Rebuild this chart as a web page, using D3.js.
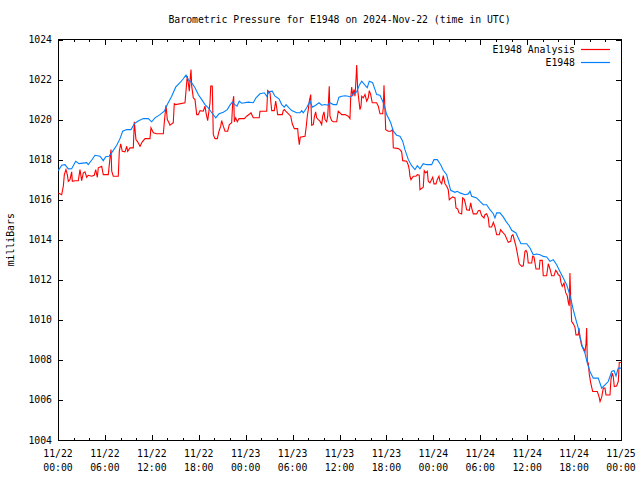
<!DOCTYPE html>
<html>
<head>
<meta charset="utf-8">
<script src="https://cdn.jsdelivr.net/npm/d3@7"></script>
<style>
  html, body { margin: 0; padding: 0; background: #fff; }
  svg { display: block; }
  text { font-family: "DejaVu Sans Mono", "Liberation Mono", monospace; font-size: 9.8px; fill: #000; }
</style>
</head>
<body>
<svg id="chart" width="640" height="480"></svg>
<script>
// ---- Data (hours since 2024-11-22 00:00 UTC, pressure in mb) ----
const title = "Barometric Pressure for E1948 on 2024-Nov-22 (time in UTC)";
const yLabel = "milliBars";
const seriesNames = ["E1948 Analysis", "E1948"];
const seriesColors = ["#ff0000", "#0080ff"];

const xTickHours = [0, 6, 12, 18, 24, 30, 36, 42, 48, 54, 60, 66, 72];
const xTickDates = ["11/22","11/22","11/22","11/22","11/23","11/23","11/23","11/23","11/24","11/24","11/24","11/24","11/25"];
const xTickTimes = ["00:00","06:00","12:00","18:00","00:00","06:00","12:00","18:00","00:00","06:00","12:00","18:00","00:00"];
const yTicks = [1004, 1006, 1008, 1010, 1012, 1014, 1016, 1018, 1020, 1022, 1024];

const blueHours = [0.04,0.47,0.90,1.32,1.75,2.26,2.69,3.67,3.87,4.39,4.73,5.37,5.79,6.10,6.52,6.94,7.51,7.93,8.27,8.79,9.34,9.76,10.19,10.91,11.55,11.98,12.40,13.04,13.59,14.03,14.54,15.05,15.60,16.02,16.37,16.66,17.10,17.52,17.94,18.38,18.80,19.22,19.66,20.17,20.59,21.14,21.65,21.99,22.29,22.63,22.89,23.18,23.49,24.34,24.97,25.32,25.83,26.38,26.69,26.98,27.40,27.75,28.26,28.61,28.94,29.16,29.54,29.89,30.52,30.95,31.16,31.37,31.80,32.23,32.52,32.95,33.38,33.72,34.14,34.49,34.78,35.21,35.64,35.93,36.28,36.70,37.12,37.43,37.76,38.20,38.53,38.84,39.26,39.55,39.81,40.24,40.54,40.75,41.18,41.52,41.82,42.03,42.24,42.55,42.88,43.31,43.73,44.08,44.37,44.80,45.23,45.65,45.95,46.29,46.71,47.15,47.79,48.08,48.50,48.94,49.27,49.71,49.91,50.22,50.77,51.06,51.41,52.05,52.47,52.69,52.90,53.54,53.96,54.39,54.82,55.24,55.67,55.88,56.10,56.52,56.94,57.29,57.71,58.02,58.57,58.86,59.21,59.94,60.36,60.78,61.22,61.64,62.06,62.49,62.92,63.34,63.77,64.19,64.62,65.05,65.26,65.56,65.90,66.24,66.54,66.75,67.10,67.39,67.69,68.03,68.45,69.09,69.53,69.95,70.37,70.81,71.10,71.36,71.65,72.00];
const blueValues = [1017.45,1017.72,1017.75,1017.54,1017.55,1017.92,1017.80,1017.85,1017.75,1018.02,1018.22,1018.17,1017.95,1018.15,1018.17,1018.39,1018.72,1019.05,1019.42,1019.50,1019.50,1019.79,1019.92,1020.05,1020.05,1019.89,1020.09,1020.25,1020.42,1020.79,1021.17,1021.62,1021.84,1022.04,1022.22,1022.00,1021.84,1021.59,1021.25,1021.00,1020.75,1020.59,1020.34,1020.09,1020.29,1020.37,1020.50,1020.72,1020.87,1020.75,1020.67,1020.92,1020.82,1020.87,1020.84,1021.09,1021.29,1021.34,1021.17,1021.39,1021.42,1021.17,1021.04,1020.75,1020.62,1020.75,1020.59,1020.45,1020.34,1020.34,1020.45,1020.34,1020.59,1020.92,1020.62,1020.72,1020.84,1020.72,1020.75,1020.72,1020.84,1020.75,1020.75,1021.12,1021.17,1021.19,1021.17,1021.12,1021.29,1021.39,1021.72,1021.92,1021.72,1021.59,1021.92,1021.84,1021.50,1021.25,1021.22,1020.92,1020.59,1020.25,1020.09,1019.84,1019.42,1019.22,1019.17,1018.92,1018.50,1018.00,1017.70,1017.50,1017.70,1017.54,1017.80,1017.75,1017.75,1018.00,1018.00,1017.75,1017.47,1017.25,1016.92,1016.47,1016.37,1016.42,1016.34,1016.25,1016.29,1016.42,1016.17,1016.09,1015.92,1015.75,1015.75,1015.50,1015.30,1015.09,1015.34,1015.34,1015.14,1014.92,1014.70,1014.47,1014.34,1014.09,1013.80,1013.80,1013.59,1013.25,1013.29,1013.25,1013.17,1013.14,1012.92,1013.00,1012.75,1012.42,1012.09,1011.75,1011.50,1011.09,1010.50,1010.00,1009.59,1009.17,1008.59,1008.34,1007.84,1007.42,1007.09,1007.09,1006.59,1006.75,1006.92,1007.42,1007.47,1007.20,1007.59,1007.59];

const redHours = [0.04,0.47,0.68,0.81,1.02,1.19,1.32,1.53,1.75,1.83,2.17,2.60,2.81,3.03,3.24,3.45,3.67,3.87,4.31,4.64,4.82,5.03,5.15,5.59,5.79,6.43,6.65,6.78,6.87,7.07,7.71,7.84,8.02,8.22,8.57,8.79,8.91,9.21,9.63,9.76,9.85,9.97,10.19,10.49,10.78,11.13,11.76,11.89,12.19,12.62,13.47,13.59,13.81,13.98,14.19,14.32,14.74,14.87,15.05,16.24,16.53,16.66,16.79,16.88,17.01,17.10,17.30,17.52,17.74,17.94,18.16,18.58,18.80,18.93,19.14,19.22,19.44,19.53,19.73,19.86,20.08,20.37,20.59,20.81,20.93,21.14,21.36,21.70,21.91,22.21,22.34,22.47,22.55,22.72,22.93,23.15,23.82,24.13,24.55,24.68,24.97,25.74,25.83,26.69,26.82,27.11,27.33,27.66,27.84,27.97,28.09,28.68,28.81,28.94,29.12,29.76,29.96,30.22,30.65,30.73,30.86,30.98,31.59,31.75,31.88,32.01,32.14,32.32,32.44,32.65,32.78,32.95,33.08,33.29,33.50,33.72,33.85,34.02,34.14,34.36,34.49,34.57,34.69,34.78,35.00,35.21,35.64,35.84,36.28,36.70,37.12,37.34,37.43,37.56,37.69,37.85,37.98,38.11,38.20,38.32,38.49,38.62,38.75,38.84,39.04,39.26,39.48,39.68,39.81,39.99,40.19,40.75,40.96,41.18,41.52,41.60,41.69,41.82,41.91,42.24,42.55,42.80,42.88,43.52,43.73,43.95,44.08,44.59,44.80,44.92,45.01,45.14,45.44,45.78,45.95,46.20,46.29,46.71,46.84,47.02,47.23,47.35,47.57,47.92,48.08,48.34,48.50,48.72,48.85,49.07,49.27,49.49,49.71,49.91,50.04,50.22,50.47,50.77,50.90,51.11,51.28,51.62,51.75,51.96,52.13,52.26,52.60,52.78,52.90,53.11,53.54,53.75,53.96,54.18,54.48,54.60,54.82,55.03,55.15,55.46,55.67,55.88,56.10,56.43,56.61,56.87,57.16,57.58,57.89,58.02,58.18,58.35,58.57,58.73,58.99,59.30,59.50,59.72,59.85,60.01,60.14,60.58,60.70,60.87,61.13,61.55,61.64,61.93,62.06,62.49,62.70,62.92,63.13,63.43,63.65,63.77,63.98,64.19,64.32,64.49,64.71,64.92,65.13,65.26,65.38,65.47,65.56,65.69,65.90,66.11,66.24,66.54,66.62,66.75,66.97,67.18,67.39,67.52,67.61,67.69,67.82,67.94,68.12,68.38,68.97,69.19,69.32,69.53,69.74,69.95,70.08,70.59,70.72,70.88,71.01,71.14,71.44,71.65,71.78,72.00];
const redValues = [1016.34,1016.25,1016.67,1017.25,1017.50,1017.25,1016.92,1017.00,1017.39,1016.92,1016.95,1016.95,1017.50,1016.95,1017.34,1017.39,1017.12,1017.22,1017.17,1017.22,1017.50,1017.12,1017.59,1017.67,1017.25,1017.25,1018.09,1018.50,1017.42,1017.17,1017.17,1018.42,1018.79,1018.42,1018.39,1018.67,1018.42,1018.59,1018.59,1019.89,1019.50,1019.00,1018.89,1018.67,1018.89,1019.05,1019.05,1019.59,1019.34,1019.29,1019.29,1019.84,1020.72,1020.00,1019.84,1019.72,1019.84,1020.79,1020.75,1020.84,1022.17,1021.84,1021.42,1021.92,1022.50,1021.67,1021.09,1021.00,1020.25,1020.25,1020.45,1020.42,1020.67,1020.34,1019.95,1020.17,1020.84,1021.67,1021.67,1019.25,1019.05,1019.05,1019.42,1019.67,1019.95,1019.67,1019.42,1019.42,1019.75,1019.84,1020.84,1021.17,1019.89,1020.09,1019.89,1020.05,1020.05,1020.17,1020.29,1020.34,1020.09,1020.09,1020.42,1020.42,1021.45,1021.34,1020.45,1020.45,1020.92,1020.59,1020.25,1020.25,1020.45,1020.50,1020.42,1020.17,1019.79,1019.55,1019.55,1019.17,1018.75,1019.12,1019.17,1019.67,1020.17,1020.50,1020.92,1021.25,1019.72,1019.75,1020.12,1020.39,1020.09,1020.00,1019.92,1019.75,1020.17,1020.39,1020.00,1019.89,1020.17,1020.72,1021.67,1020.17,1019.95,1019.89,1019.89,1020.42,1020.25,1020.25,1020.17,1020.05,1021.09,1021.62,1021.17,1021.50,1021.17,1022.00,1022.72,1021.50,1020.92,1020.50,1020.67,1021.17,1021.09,1021.25,1020.92,1021.09,1021.45,1021.25,1020.84,1020.84,1020.67,1020.29,1020.29,1020.59,1021.72,1020.42,1019.50,1019.42,1019.42,1019.50,1018.59,1018.55,1018.50,1018.39,1017.95,1017.92,1017.72,1017.50,1017.17,1017.00,1017.17,1017.17,1017.25,1017.22,1016.50,1016.62,1017.45,1017.34,1017.42,1016.92,1016.84,1017.12,1016.79,1016.79,1017.00,1017.17,1016.92,1016.79,1017.20,1016.79,1016.67,1016.50,1016.00,1016.07,1016.14,1016.09,1015.59,1015.54,1015.34,1015.29,1016.09,1016.02,1015.75,1015.50,1015.47,1015.84,1015.59,1015.29,1015.29,1015.45,1015.47,1015.20,1015.09,1015.25,1015.30,1015.09,1014.64,1014.64,1014.87,1014.64,1014.25,1014.25,1014.50,1014.37,1014.25,1013.87,1013.92,1014.20,1014.25,1014.00,1013.67,1013.34,1012.80,1012.67,1012.70,1013.42,1013.47,1013.34,1012.84,1012.84,1013.17,1013.14,1012.54,1012.54,1012.97,1012.97,1012.20,1012.20,1012.80,1012.54,1012.20,1012.20,1012.47,1012.42,1012.25,1012.20,1011.87,1011.67,1011.84,1011.37,1011.20,1010.87,1010.70,1012.34,1011.14,1009.92,1009.80,1009.64,1009.25,1009.25,1009.59,1009.14,1008.70,1008.59,1008.42,1008.80,1009.59,1007.92,1007.84,1007.30,1006.87,1006.42,1006.42,1006.17,1005.92,1006.14,1006.59,1006.59,1006.25,1006.25,1007.04,1007.34,1007.17,1006.67,1006.70,1006.92,1007.87,1007.87];

(function () {
  // ---- Layout ----
  const svg = d3.select("#chart");
  const pL = 58, pR = 621, pT = 39.5, pB = 440;

  const x = d3.scaleLinear().domain([0, 72]).range([pL, pR]);
  const y = d3.scaleLinear().domain([1004, 1024]).range([pB, pT]);

  const minorHours = d3.range(0, 73, 2).filter(h => h % 6 !== 0);

  const axes = svg.append("g").attr("shape-rendering", "crispEdges");

  function styleAxis(g) {
    g.select(".domain").remove();
    g.selectAll(".tick text").remove();
    g.selectAll(".tick line").attr("stroke", "#000");
  }

  axes.append("g").attr("transform", `translate(0,${pB})`)
    .call(d3.axisBottom(x).tickValues(xTickHours).tickSize(-5))
    .call(styleAxis);
  axes.append("g").attr("transform", `translate(0,${pB})`)
    .call(d3.axisBottom(x).tickValues(minorHours).tickSize(-2.5))
    .call(styleAxis);
  axes.append("g").attr("transform", `translate(0,${pT})`)
    .call(d3.axisTop(x).tickValues(xTickHours).tickSize(-5))
    .call(styleAxis);
  axes.append("g").attr("transform", `translate(0,${pT})`)
    .call(d3.axisTop(x).tickValues(minorHours).tickSize(-2.5))
    .call(styleAxis);
  axes.append("g").attr("transform", `translate(${pL},0)`)
    .call(d3.axisLeft(y).tickValues(yTicks).tickSize(-5))
    .call(styleAxis);
  axes.append("g").attr("transform", `translate(${pR},0)`)
    .call(d3.axisRight(y).tickValues(yTicks).tickSize(-5))
    .call(styleAxis);

  axes.append("rect")
    .attr("x", pL).attr("y", pT)
    .attr("width", pR - pL).attr("height", pB - pT)
    .attr("fill", "none").attr("stroke", "#000").attr("stroke-width", 1);

  // y tick labels
  svg.append("g").selectAll("text").data(yTicks).join("text")
    .attr("x", pL - 6).attr("y", d => y(d) + 3.5)
    .attr("text-anchor", "end")
    .text(d => d);

  // x tick labels
  const xl = svg.append("g").selectAll("g").data(xTickHours).join("g");
  xl.append("text").attr("x", d => x(d)).attr("y", 457).attr("text-anchor", "middle")
    .text((d, i) => xTickDates[i]);
  xl.append("text").attr("x", d => x(d)).attr("y", 471).attr("text-anchor", "middle")
    .text((d, i) => xTickTimes[i]);

  // title
  svg.append("text").attr("x", (pL + pR) / 2).attr("y", 23)
    .attr("text-anchor", "middle").text(title);

  // y label
  svg.append("text")
    .attr("transform", `translate(14,${(pT + pB) / 2}) rotate(-90)`)
    .attr("text-anchor", "middle").text(yLabel);

  // lines
  const line = d3.line().x(d => x(d[0])).y(d => y(d[1]));
  const redData = d3.zip(redHours, redValues);
  const blueData = d3.zip(blueHours, blueValues);

  svg.append("path").datum(redData)
    .attr("d", line).attr("fill", "none")
    .attr("stroke", seriesColors[0]).attr("stroke-width", 1.1);
  svg.append("path").datum(blueData)
    .attr("d", line).attr("fill", "none")
    .attr("stroke", seriesColors[1]).attr("stroke-width", 1.1);

  // legend
  const legend = svg.append("g");
  seriesNames.forEach((name, i) => {
    const ly = 49.5 + i * 13;
    legend.append("text").attr("x", 575).attr("y", ly + 3.5)
      .attr("text-anchor", "end").text(name);
    legend.append("path")
      .attr("d", `M581,${ly}H610`)
      .attr("fill", "none")
      .attr("stroke", seriesColors[i]).attr("stroke-width", 1.2);
  });
})();
</script>
</body>
</html>
